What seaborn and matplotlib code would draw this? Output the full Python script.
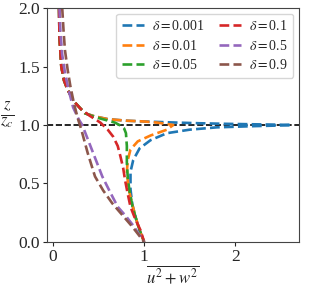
import numpy as np
import pandas as pd
from matplotlib import pyplot as plt
import seaborn as sns

# curves: (u^2+w^2, z/z_c) in drawing order
upper_x = [0.065, 0.07, 0.09, 0.12, 0.16, 0.23, 0.35, 0.45, 0.6, 0.8, 1.0]
upper_z = [2.0, 1.75, 1.5, 1.38, 1.3, 1.2, 1.1, 1.075, 1.05, 1.037, 1.03]

blue_x = upper_x + [1.3, 1.6, 1.9, 2.2, 2.45, 2.62, 2.45, 2.2, 1.8, 1.5, 1.25, 1.07, 0.95, 0.88, 0.85, 0.85, 0.87, 0.91, 0.95, 1.0]
blue_z = upper_z + [1.022, 1.015, 1.01, 1.006, 1.003, 1.0, 0.995, 0.99, 0.98, 0.96, 0.93, 0.87, 0.80, 0.70, 0.60, 0.45, 0.32, 0.2, 0.1, 0.0]

orange_x = upper_x + [1.15, 1.32, 1.25, 1.07, 0.93, 0.85, 0.82, 0.81, 0.83, 0.87, 0.91, 0.95, 1.0]
orange_z = upper_z + [1.02, 1.0, 0.96, 0.91, 0.86, 0.79, 0.70, 0.60, 0.45, 0.32, 0.2, 0.1, 0.0]

green_x = upper_x[:7] + [0.45, 0.59, 0.68, 0.74, 0.78, 0.80, 0.81, 0.81, 0.82, 0.84, 0.87, 0.91, 0.95, 1.0]
green_z = upper_z[:7] + [1.07, 1.04, 1.02, 0.995, 0.97, 0.93, 0.82, 0.68, 0.55, 0.43, 0.31, 0.2, 0.1, 0.0]

red_x = upper_x[:6] + [0.3, 0.4, 0.52, 0.6, 0.66, 0.71, 0.74, 0.77, 0.79, 0.82, 0.85, 0.9, 0.96, 1.0]
red_z = upper_z[:6] + [1.14, 1.08, 1.02, 0.96, 0.90, 0.82, 0.73, 0.63, 0.53, 0.41, 0.30, 0.2, 0.1, 0.0]

purple_x = [0.07, 0.08, 0.1, 0.13, 0.17, 0.22, 0.28, 0.32, 0.43, 0.54, 0.63, 0.71, 0.8, 0.88, 1.0]
purple_z = [2.0, 1.8, 1.6, 1.45, 1.3, 1.15, 1.05, 1.0, 0.78, 0.56, 0.42, 0.30, 0.22, 0.14, 0.0]

brown_x = [0.10, 0.115, 0.13, 0.16, 0.19, 0.23, 0.27, 0.31, 0.38, 0.46, 0.55, 0.65, 0.76, 0.87, 1.0]
brown_z = [2.0, 1.8, 1.64, 1.47, 1.33, 1.18, 1.06, 0.96, 0.76, 0.56, 0.44, 0.33, 0.23, 0.13, 0.0]

deltas = ['0.001', '0.01', '0.05', '0.1', '0.5', '0.9']
curves = [(blue_x, blue_z), (orange_x, orange_z), (green_x, green_z),
          (red_x, red_z), (purple_x, purple_z), (brown_x, brown_z)]

sns.set_style('ticks')
plt.rcParams['font.family'] = 'serif'
plt.rcParams['font.serif'] = ['Liberation Serif', 'DejaVu Serif']
plt.rcParams['mathtext.fontset'] = 'stix'

fig = plt.figure(figsize=(3.12, 2.88), dpi=100)
ax = fig.add_axes([0.151, 0.160, 0.807, 0.812])
pal = sns.color_palette('tab10')
for i, (d, (cx, cz)) in enumerate(zip(deltas, curves)):
    df = pd.DataFrame({'x': cx, 'z': cz})
    sns.lineplot(data=df, x='x', y='z', sort=False, estimator=None, ax=ax,
                 color=pal[i], ls='--', lw=1.9, label=rf'$\delta=${d}')
ax.axhline(1.0, color='k', ls='--', lw=1.2, zorder=0)

ax.set_xlim(-0.066, 2.70)
ax.set_ylim(0, 2.0)
ax.set_xticks([0, 1, 2])
ax.set_yticks([0, 0.5, 1.0, 1.5, 2.0])
ax.tick_params(labelsize=12.5, length=3, pad=2)
for s in ax.spines.values():
    s.set_color('#444444')
ax.set_xlabel(r'$\overline{u^2+w^2}$', fontsize=12, labelpad=0)
ax.set_ylabel(r'$\frac{z}{z_c}$', fontsize=17, rotation=0, ha='center', va='center')
ax.yaxis.set_label_coords(-0.16, 0.54)
ax.legend(loc='upper right', ncol=2, fontsize=10, handlelength=1.6,
          columnspacing=1.0, handletextpad=0.6, borderaxespad=0.4,
          labelspacing=0.4)
fig.savefig('out.png', dpi=100)
